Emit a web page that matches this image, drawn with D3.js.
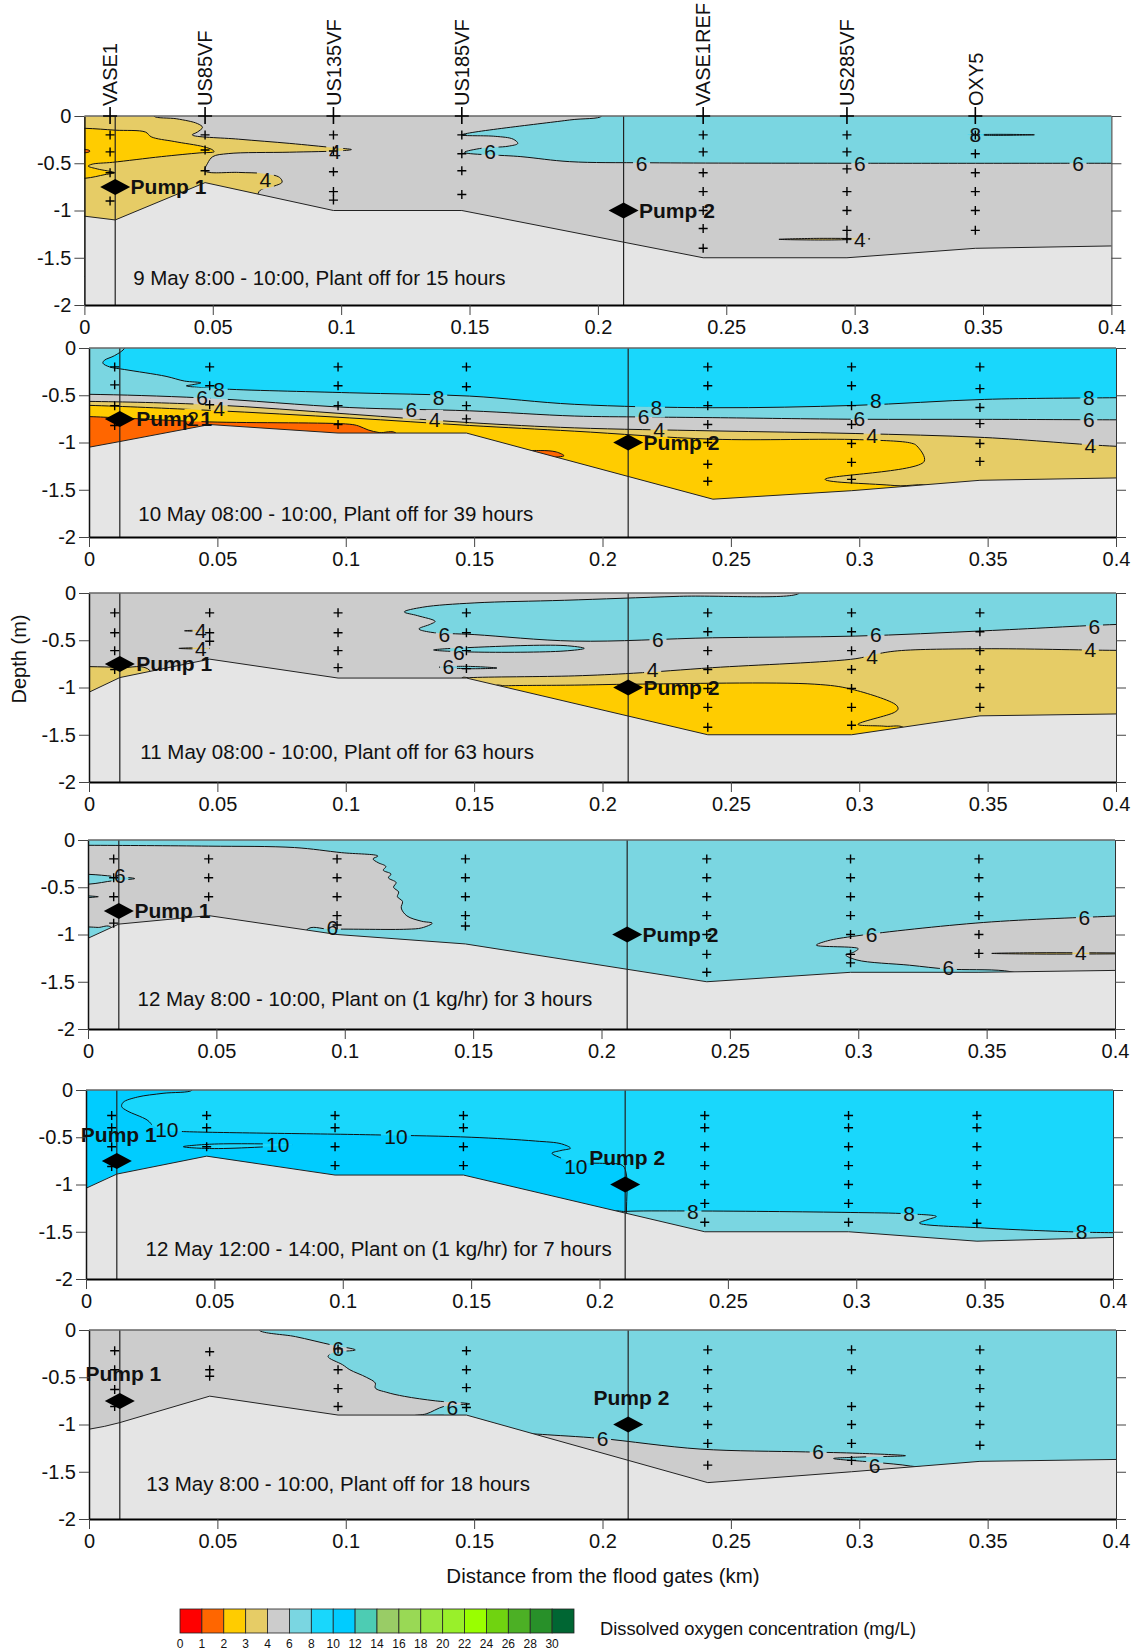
<!DOCTYPE html>
<html lang="en">
<head>
<meta charset="utf-8">
<title>Dissolved oxygen sections</title>
<script src="https://d3js.org/d3.v7.min.js"></script>
<style>
  body { margin: 0; background: #fff; }
  svg text { font-family: "Liberation Sans", Arial, sans-serif; fill: #111; }
</style>
</head>
<body>
<div id="chart"></div>
<script>
var W = 1136, H = 1652;

// ---- data ----
var stations = ["VASE1", "US85VF", "US135VF", "US185VF", "VASE1REF", "US285VF", "OXY5"];
var stationX = [0.010, 0.047, 0.097, 0.147, 0.241, 0.297, 0.347];
var pumpX = [0.012, 0.210];
var pumpD = [-0.75, -1.0];
var xTicks = [0, 0.05, 0.1, 0.15, 0.2, 0.25, 0.3, 0.35, 0.4];
var yTicks = [0, -0.5, -1, -1.5, -2];
var doBreaks = [0, 1, 2, 3, 4, 6, 8, 10, 12, 14, 16, 18, 20, 22, 24, 26, 28, 30];
var doColors = ["#FF0000", "#FF6600", "#FFCC00", "#E6CC66", "#CCCCCC", "#7AD6E1", "#19D7FC", "#00CCFF",
  "#4DCCB3", "#99CC66", "#99D955", "#99E640", "#99F02A", "#99FF00", "#70D310", "#4CB025", "#289029", "#006633"];
var captions = [
  "9 May 8:00 - 10:00, Plant off for 15 hours",
  "10 May 08:00 - 10:00, Plant off for 39 hours",
  "11 May 08:00 - 10:00, Plant off for 63 hours",
  "12 May 8:00 - 10:00, Plant on (1 kg/hr) for 3 hours",
  "12 May 12:00 - 14:00, Plant on (1 kg/hr) for 7 hours",
  "13 May 8:00 - 10:00, Plant off for 18 hours"
];

// bed profiles [distance km, depth m]
var bed1 = [[0,-1.06],[0.012,-1.1],[0.047,-0.705],[0.097,-1.0],[0.147,-1.0],[0.241,-1.5],[0.297,-1.5],[0.347,-1.4],[0.4,-1.375]];
var bed2 = [[0,-1.05],[0.012,-0.99],[0.047,-0.81],[0.097,-0.9],[0.147,-0.9],[0.243,-1.6],[0.297,-1.51],[0.347,-1.4],[0.4,-1.375]];
var bed3 = [[0,-1.05],[0.012,-0.895],[0.047,-0.7],[0.097,-0.9],[0.147,-0.9],[0.241,-1.5],[0.297,-1.5],[0.347,-1.3],[0.4,-1.28]];
var bed4 = [[0,-1.04],[0.012,-0.89],[0.047,-0.8],[0.097,-1.0],[0.147,-1.1],[0.241,-1.5],[0.297,-1.4],[0.347,-1.4],[0.4,-1.38]];
var bed5 = [[0,-1.04],[0.012,-0.89],[0.047,-0.7],[0.097,-0.9],[0.147,-0.9],[0.241,-1.5],[0.297,-1.5],[0.347,-1.6],[0.4,-1.56]];
var bed6 = [[0,-1.05],[0.006,-1.02],[0.012,-0.98],[0.047,-0.7],[0.097,-0.9],[0.147,-0.9],[0.241,-1.615],[0.297,-1.5],[0.347,-1.39],[0.4,-1.37]];

// background DO value of each section
var bases = [5, 9, 5, 7, 9, 5];

// DO regions (v = mg/L inside the region)
var regions1 = [
  {v: 3.5, pts: [[-0.02,0.05],[0.027,0.05],[0.027,0],[0.036,-0.03],[0.044,-0.08],[0.046,-0.12],[0.044,-0.17],[0.042,-0.2],[0.06,-0.245],[0.08,-0.29],[0.097,-0.335],[0.104,-0.355],[0.1,-0.368],[0.08,-0.383],[0.056,-0.398],[0.05,-0.43],[0.048,-0.5],[0.047,-0.58],[0.06,-0.597],[0.07,-0.61],[0.076,-0.65],[0.077,-0.7],[0.073,-0.75],[0.068,-0.8],[0.068,-1.5],[-0.02,-1.5]]},
  {v: 2.5, pts: [[-0.02,-0.13],[0,-0.13],[0.012,-0.15],[0.0238,-0.17],[0.026,-0.22],[0.035,-0.27],[0.0464,-0.325],[0.05,-0.36],[0.0505,-0.378],[0.045,-0.39],[0.03,-0.43],[0.011,-0.49],[0.003,-0.51],[0.0015,-0.53],[0.005,-0.56],[0.0117,-0.6],[0.008,-0.62],[0,-0.66],[-0.02,-0.66]]},
  {v: 1.5, pts: [[-0.01,-0.355],[0.002,-0.365],[0.002,-0.378],[-0.01,-0.385]]},
  {v: 7, pts: [[0.2015,0.05],[0.2015,0],[0.189,-0.042],[0.147,-0.2],[0.16,-0.215],[0.167,-0.245],[0.1688,-0.29],[0.165,-0.32],[0.155,-0.34],[0.148,-0.385],[0.17,-0.43],[0.189,-0.483],[0.22,-0.495],[0.3,-0.5],[0.4,-0.5],[0.42,-0.5],[0.42,0.05]]},
  {v: 9, pts: [[0.344,-0.2],[0.355,-0.194],[0.37,-0.199],[0.355,-0.205]]},
  {v: 3.5, pts: [[0.2705,-1.305],[0.285,-1.295],[0.306,-1.3],[0.29,-1.312]]}
];
var regions2 = [
  {v: 7, pts: [[0.0139,0.05],[0.0139,0],[0.01,-0.08],[0.006,-0.13],[0.0054,-0.16],[0.008,-0.2],[0.0139,-0.228],[0.03,-0.3],[0.0372,-0.35],[0.0436,-0.368],[0.04,-0.39],[0.0379,-0.4],[0.0499,-0.43],[0.1016,-0.474],[0.1483,-0.509],[0.189,-0.596],[0.243,-0.632],[0.2987,-0.607],[0.3487,-0.544],[0.4,-0.526],[0.42,-0.52],[0.42,-2.5],[-0.02,-2.5],[-0.02,0.05]]},
  {v: 5, pts: [[-0.02,-0.49],[0,-0.49],[0.044,-0.528],[0.1016,-0.63],[0.1483,-0.665],[0.189,-0.72],[0.216,-0.73],[0.243,-0.737],[0.2987,-0.754],[0.3487,-0.755],[0.4,-0.76],[0.42,-0.76],[0.42,-2.5],[-0.02,-2.5]]},
  {v: 3.5, pts: [[-0.02,-0.565],[0,-0.565],[0.047,-0.6],[0.1016,-0.7],[0.1483,-0.79],[0.189,-0.845],[0.243,-0.877],[0.2987,-0.905],[0.3487,-0.947],[0.4,-1.04],[0.42,-1.05],[0.42,-2.5],[-0.02,-2.5]]},
  {v: 2.5, pts: [[-0.02,-0.6],[0,-0.607],[0.047,-0.66],[0.1016,-0.74],[0.1483,-0.82],[0.189,-0.88],[0.243,-0.965],[0.3,-0.97],[0.3203,-1.007],[0.3224,-1.035],[0.3253,-1.2],[0.2867,-1.39],[0.3139,-1.456],[0.33,-1.5],[0.33,-2.5],[-0.02,-2.5]]},
  {v: 1.5, pts: [[-0.02,-0.72],[0,-0.726],[0.012,-0.74],[0.047,-0.782],[0.1016,-0.807],[0.105,-0.825],[0.1087,-0.867],[0.113,-0.895],[0.12,-0.91],[0.12,-2.5],[-0.02,-2.5]]},
  {v: 1.5, pts: [[0.17,-1.1],[0.176,-1.085],[0.182,-1.1],[0.185,-1.14],[0.17,-1.14]]}
];
var regions3 = [
  {v: 7, pts: [[0.2767,0.05],[0.2767,0],[0.23,-0.035],[0.1852,-0.077],[0.15,-0.105],[0.13,-0.15],[0.1228,-0.2],[0.128,-0.24],[0.1348,-0.3],[0.133,-0.33],[0.1285,-0.38],[0.133,-0.415],[0.15,-0.44],[0.189,-0.509],[0.2429,-0.474],[0.2987,-0.456],[0.3487,-0.4],[0.4,-0.333],[0.42,-0.32],[0.42,0.05]]},
  {v: 7, pts: [[0.1342,-0.603],[0.15,-0.575],[0.185,-0.556],[0.1929,-0.586],[0.185,-0.614],[0.15,-0.625]]},
  {v: 7, pts: [[0.1364,-0.785],[0.147,-0.776],[0.1589,-0.794],[0.147,-0.801]]},
  {v: 3.5, pts: [[0.0372,-0.4],[0.042,-0.394],[0.0465,-0.4],[0.042,-0.405]]},
  {v: 3.5, pts: [[0.035,-0.586],[0.042,-0.58],[0.047,-0.586],[0.042,-0.592]]},
  {v: 3.5, pts: [[-0.02,-0.779],[0,-0.779],[0.012,-0.79],[0.0239,-0.825],[0.0245,-2.5],[-0.02,-2.5]]},
  {v: 3.5, pts: [[0.145,-0.905],[0.1483,-0.896],[0.189,-0.877],[0.212,-0.849],[0.2429,-0.79],[0.2987,-0.695],[0.306,-0.65],[0.315,-0.612],[0.3487,-0.59],[0.4,-0.607],[0.42,-0.607],[0.42,-2.5],[0.145,-2.5]]},
  {v: 2.5, pts: [[0.158,-0.99],[0.1624,-0.982],[0.189,-0.975],[0.212,-0.965],[0.2827,-0.965],[0.297,-1.018],[0.3144,-1.186],[0.3151,-1.228],[0.3137,-1.263],[0.2995,-1.39],[0.31,-1.41],[0.318,-1.44],[0.318,-2.5],[0.158,-2.5]]}
];
var regions4 = [
  {v: 5, pts: [[-0.02,-0.056],[0,-0.056],[0.047,-0.065],[0.0804,-0.08],[0.0988,-0.134],[0.1129,-0.17],[0.111,-0.2],[0.113,-0.24],[0.116,-0.28],[0.115,-0.32],[0.118,-0.36],[0.117,-0.4],[0.12,-0.45],[0.119,-0.5],[0.121,-0.55],[0.1205,-0.6],[0.1225,-0.65],[0.122,-0.72],[0.1242,-0.803],[0.13,-0.86],[0.1341,-0.88],[0.13,-0.93],[0.1242,-0.944],[0.0945,-0.944],[0.085,-0.955],[0.085,-2.5],[0.009,-2.5],[0.009,-0.925],[0.004,-0.925],[0,-0.92],[-0.02,-0.92]]},
  {v: 7, pts: [[-0.02,-0.363],[0,-0.363],[0.01,-0.385],[0.0182,-0.408],[0.01,-0.43],[0,-0.468],[-0.02,-0.468]]},
  {v: 7, pts: [[-0.02,-0.59],[0.004,-0.6],[-0.02,-0.615]]},
  {v: 5, pts: [[0.42,-0.78],[0.4015,-0.803],[0.3487,-0.873],[0.2995,-1.014],[0.288,-1.067],[0.2837,-1.113],[0.3,-1.15],[0.298,-1.19],[0.2951,-1.215],[0.2995,-1.27],[0.32,-1.325],[0.335,-1.366],[0.357,-1.384],[0.37,-1.45],[0.42,-1.45]]},
  {v: 3.5, pts: [[0.352,-1.2],[0.37,-1.193],[0.4,-1.195],[0.42,-1.2],[0.4,-1.205],[0.37,-1.207]]}
];
var regions5 = [
  {v: 11, pts: [[0.0414,0.05],[0.0414,0],[0.03,-0.035],[0.02,-0.075],[0.0145,-0.13],[0.0139,-0.176],[0.016,-0.22],[0.0238,-0.317],[0.0266,-0.387],[0.032,-0.43],[0.0379,-0.44],[0.1129,-0.475],[0.15,-0.5],[0.175,-0.54],[0.1852,-0.57],[0.1887,-0.616],[0.185,-0.64],[0.1815,-0.669],[0.185,-0.72],[0.19,-0.77],[0.2,-0.775],[0.209,-0.8],[0.2105,-0.9],[0.2105,-1.3],[0.2105,-2.5],[-0.02,-2.5],[-0.02,0.05]]},
  {v: 9, pts: [[0.0379,-0.6],[0.05,-0.572],[0.0803,-0.58],[0.05,-0.62]]},
  {v: 7, pts: [[0.205,-1.3],[0.2102,-1.285],[0.2336,-1.28],[0.2976,-1.296],[0.32,-1.31],[0.3312,-1.338],[0.328,-1.37],[0.3246,-1.408],[0.3501,-1.461],[0.3865,-1.503],[0.4,-1.51],[0.42,-1.514],[0.42,-2.5],[0.205,-2.5]]}
];
var regions6 = [
  {v: 7, pts: [[0.0662,0.05],[0.0662,0],[0.0804,-0.07],[0.0945,-0.158],[0.1037,-0.211],[0.095,-0.24],[0.0931,-0.281],[0.0988,-0.368],[0.1016,-0.421],[0.108,-0.5],[0.1115,-0.561],[0.1115,-0.614],[0.116,-0.66],[0.1228,-0.702],[0.135,-0.75],[0.1483,-0.782],[0.1384,-0.807],[0.1313,-0.888],[0.127,-0.905],[0.147,-0.915],[0.17,-1.09],[0.1766,-1.105],[0.199,-1.147],[0.238,-1.26],[0.279,-1.29],[0.3,-1.305],[0.318,-1.33],[0.3,-1.345],[0.29,-1.36],[0.306,-1.4],[0.32,-1.44],[0.33,-1.5],[0.33,-2.5],[0.42,-2.5],[0.42,0.05]]}
];

// sampling depths at each station
var samples1 = [[-0.2,-0.38,-0.6,-0.9],[-0.2,-0.36,-0.58],[-0.2,-0.37,-0.59,-0.8,-0.89],[-0.2,-0.4,-0.58,-0.83],
  [-0.2,-0.38,-0.6,-0.8,-1.0,-1.19,-1.4],[-0.2,-0.38,-0.56,-0.8,-1.0,-1.21,-1.3],[-0.2,-0.4,-0.6,-0.8,-1.0,-1.21]];
var samples2 = [[-0.2,-0.39,-0.61,-0.82],[-0.2,-0.4,-0.6],[-0.2,-0.4,-0.61,-0.81],[-0.2,-0.41,-0.61,-0.75],
  [-0.2,-0.4,-0.61,-0.81,-1.0,-1.23,-1.41],[-0.2,-0.4,-0.61,-0.81,-1.01,-1.21,-1.39],[-0.2,-0.43,-0.63,-0.8,-1.01,-1.2]];
var samples3 = [[-0.21,-0.42,-0.61,-0.81],[-0.21,-0.42,-0.51],[-0.21,-0.42,-0.61,-0.79],[-0.21,-0.42,-0.61,-0.8],
  [-0.21,-0.41,-0.61,-0.81,-1.01,-1.21,-1.42],[-0.21,-0.41,-0.61,-0.81,-1.01,-1.21,-1.4],[-0.21,-0.41,-0.61,-0.81,-1.0,-1.21]];
var samples4 = [[-0.2,-0.4,-0.6,-0.88],[-0.2,-0.4,-0.6],[-0.2,-0.4,-0.6,-0.8,-0.9],[-0.2,-0.4,-0.6,-0.8,-0.91],
  [-0.2,-0.4,-0.6,-0.8,-1.0,-1.21,-1.4],[-0.2,-0.4,-0.6,-0.8,-1.0,-1.21,-1.3],[-0.2,-0.4,-0.6,-0.8,-1.0,-1.2]];
var samples5 = [[-0.27,-0.4,-0.6,-0.81],[-0.27,-0.4,-0.6],[-0.27,-0.4,-0.6,-0.8],[-0.27,-0.4,-0.6,-0.8],
  [-0.27,-0.4,-0.6,-0.8,-1.0,-1.2,-1.4],[-0.27,-0.4,-0.6,-0.8,-1.0,-1.2,-1.4],[-0.27,-0.4,-0.6,-0.8,-1.0,-1.2,-1.41]];
var samples6 = [[-0.22,-0.42,-0.63,-0.81],[-0.23,-0.42,-0.49],[-0.2,-0.42,-0.62,-0.81],[-0.22,-0.42,-0.61,-0.82],
  [-0.21,-0.42,-0.62,-0.81,-1.0,-1.2,-1.43],[-0.21,-0.42,-0.81,-1.0,-1.2,-1.38],[-0.21,-0.42,-0.62,-0.81,-1.0,-1.22]];

// contour labels [text, km, depth]
var labels1 = [["4",0.0975,-0.37],["4",0.0705,-0.67],["6",0.158,-0.37],["6",0.217,-0.5],["6",0.302,-0.5],["6",0.387,-0.5],["8",0.347,-0.2],["4",0.302,-1.31]];
var labels2 = [["6",0.044,-0.525],["8",0.0507,-0.44],["4",0.0507,-0.635],["2",0.0405,-0.75],["8",0.1362,-0.525],["6",0.1255,-0.65],["4",0.1346,-0.76],
  ["8",0.221,-0.63],["6",0.216,-0.72],["4",0.222,-0.86],["8",0.3065,-0.56],["6",0.3,-0.75],["4",0.305,-0.92],["8",0.3894,-0.52],["6",0.3894,-0.76],["4",0.39,-1.03]];
var labels3 = [["4",0.0436,-0.4],["4",0.0436,-0.59],["6",0.1384,-0.44],["6",0.144,-0.63],["6",0.14,-0.78],
  ["6",0.2216,-0.49],["4",0.2195,-0.81],["6",0.3065,-0.44],["4",0.305,-0.67],["6",0.3916,-0.35],["4",0.39,-0.6]];
var labels4 = [["6",0.0124,-0.38],["6",0.0952,-0.93],["6",0.3052,-1.0],["6",0.3881,-0.82],["6",0.3351,-1.35],["4",0.3867,-1.19]];
var labels5 = [["10",0.0315,-0.42],["10",0.0747,-0.58],["10",0.1207,-0.49],["10",0.1908,-0.81],["8",0.2364,-1.285],["8",0.3206,-1.31],["8",0.3878,-1.5]];
var labels6 = [["6",0.097,-0.19],["6",0.1415,-0.82],["6",0.2,-1.147],["6",0.284,-1.29],["6",0.306,-1.43]];

// where the pump names are written [km, depth] (Pump 1, Pump 2)
var pumpText = [
  [[0.018,-0.75],[0.216,-1.0]],
  [[0.0184,-0.75],[0.216,-1.0]],
  [[0.0184,-0.75],[0.216,-1.0]],
  [[0.0181,-0.75],[0.216,-1.0]],
  [[-0.002,-0.475],[0.196,-0.71]],
  [[-0.0014,-0.46],[0.1965,-0.71]]
];
var captionAt = [[0.019,-1.71],[0.0192,-1.75],[0.02,-1.68],[0.0193,-1.68],[0.0232,-1.68],[0.0223,-1.63]];

var beds = [bed1, bed2, bed3, bed4, bed5, bed6];
var regions = [regions1, regions2, regions3, regions4, regions5, regions6];
var samples = [samples1, samples2, samples3, samples4, samples5, samples6];
var labels = [labels1, labels2, labels3, labels4, labels5, labels6];

// ---- layout ----
var panelLeft = [84.4, 89, 89, 88, 86, 89];
var panelTop = [116, 348, 593, 840, 1090, 1330];
var panelW = 1027, panelH = 189;

var color = d3.scaleThreshold().domain(doBreaks.slice(1)).range(doColors);

var svg = d3.select("#chart").append("svg")
    .attr("width", W).attr("height", H);
var defs = svg.append("defs");

beds.forEach(function(bed, i) {
  var x = d3.scaleLinear().domain([0, 0.4]).range([panelLeft[i], panelLeft[i] + panelW]);
  var y = d3.scaleLinear().domain([0, -2]).range([panelTop[i], panelTop[i] + panelH]);
  var smooth = d3.line().x(function(d) { return x(d[0]); }).y(function(d) { return y(d[1]); })
      .curve(d3.curveCatmullRomClosed.alpha(0.5));
  var straight = d3.line().x(function(d) { return x(d[0]); }).y(function(d) { return y(d[1]); });

  defs.append("clipPath").attr("id", "clip" + i)
    .append("rect").attr("x", x(0)).attr("y", y(0)).attr("width", panelW).attr("height", panelH);

  // holes in the contour lines behind the labels
  var mask = defs.append("mask").attr("id", "mask" + i).attr("maskUnits", "userSpaceOnUse")
      .attr("x", 0).attr("y", 0).attr("width", W).attr("height", H);
  mask.append("rect").attr("width", W).attr("height", H).attr("fill", "white");
  mask.selectAll(null).data(labels[i]).join("rect")
      .attr("x", function(d) { return x(d[1]) - d[0].length * 6.5 - 2; })
      .attr("y", function(d) { return y(d[2]) - 10; })
      .attr("width", function(d) { return d[0].length * 13 + 4; })
      .attr("height", 20)
      .attr("fill", "black");

  var g = svg.append("g");
  var area = g.append("g").attr("clip-path", "url(#clip" + i + ")");

  area.append("rect").attr("x", x(0)).attr("y", y(0)).attr("width", panelW).attr("height", panelH)
      .attr("fill", color(bases[i]));

  area.selectAll("path.fill").data(regions[i]).join("path")
      .attr("class", "fill")
      .attr("d", function(d) { return smooth(d.pts); })
      .attr("fill", function(d) { return color(d.v); });

  area.append("g").attr("mask", "url(#mask" + i + ")")
    .selectAll("path").data(regions[i]).join("path")
      .attr("d", function(d) { return smooth(d.pts); })
      .attr("fill", "none")
      .attr("stroke", "#111")
      .attr("stroke-width", 1);

  // river bed
  var bedPoly = [[-0.01, bed[0][1]]].concat(bed, [[0.41, bed[bed.length - 1][1]], [0.41, -2.2], [-0.01, -2.2]]);
  area.append("path").attr("d", straight(bedPoly) + "Z")
      .attr("fill", "#E5E5E5").attr("stroke", "#222").attr("stroke-width", 1);

  // pump lines
  g.selectAll("line.pump").data(pumpX).join("line")
      .attr("x1", function(d) { return x(d); }).attr("x2", function(d) { return x(d); })
      .attr("y1", y(0)).attr("y2", y(-2))
      .attr("stroke", "#222").attr("stroke-width", 1.2);

  // sampling points
  stationX.forEach(function(sx, j) {
    g.selectAll(null).data(samples[i][j]).join("path")
        .attr("transform", function(d) { return "translate(" + x(sx) + "," + y(d) + ")"; })
        .attr("d", "M-4.5,0H4.5M0,-4.5V4.5")
        .attr("stroke", "#000").attr("stroke-width", 1.4);
  });

  // contour labels
  g.selectAll("text.clab").data(labels[i]).join("text")
      .attr("class", "clab")
      .attr("x", function(d) { return x(d[1]); })
      .attr("y", function(d) { return y(d[2]); })
      .attr("dy", "0.36em")
      .attr("text-anchor", "middle")
      .style("font-size", "21px")
      .text(function(d) { return d[0]; });

  // pumps
  g.selectAll("path.diamond").data(pumpX).join("path")
      .attr("transform", function(d, k) { return "translate(" + x(d) + "," + y(pumpD[k]) + ")"; })
      .attr("d", "M-15,0L0,-8L15,0L0,8Z")
      .attr("fill", "#000");
  g.selectAll("text.pump").data(pumpText[i]).join("text")
      .attr("x", function(d) { return x(d[0]); })
      .attr("y", function(d) { return y(d[1]); })
      .attr("dy", "0.36em")
      .style("font-size", "21px").style("font-weight", "bold")
      .text(function(d, k) { return "Pump " + (k + 1); });

  g.append("text")
      .attr("x", x(captionAt[i][0])).attr("y", y(captionAt[i][1]))
      .attr("dy", "0.36em")
      .style("font-size", "20.5px")
      .text(captions[i]);

  // axes
  var left = g.append("g").attr("transform", "translate(" + x(0) + ",0)")
      .call(d3.axisLeft(y).tickValues(yTicks).tickSize(10).tickSizeOuter(0).tickPadding(3)
        .tickFormat(function(d) { return String(d); }));
  var right = g.append("g").attr("transform", "translate(" + x(0.4) + ",0)")
      .call(d3.axisRight(y).tickValues(yTicks).tickSize(10).tickSizeOuter(0).tickFormat(""));
  var bottom = g.append("g").attr("transform", "translate(0," + y(-2) + ")")
      .call(d3.axisBottom(x).tickValues(xTicks).tickSize(10).tickSizeOuter(0).tickPadding(5)
        .tickFormat(function(d) { return String(d); }));
  [left, right, bottom].forEach(function(a) {
    a.selectAll("text").style("font-size", "20px").style("font-family", "Liberation Sans, Arial, sans-serif").attr("fill", "#111");
    a.selectAll("line").attr("stroke", "#444");
  });
  left.select(".domain").attr("stroke", "#111").attr("stroke-width", 1.5);
  right.select(".domain").attr("stroke", "#333");
  bottom.select(".domain").attr("stroke", "#000").attr("stroke-width", 2);
  g.append("line").attr("x1", x(0)).attr("x2", x(0.4)).attr("y1", y(0)).attr("y2", y(0))
      .attr("stroke", "#666").attr("stroke-width", 1.5);

  // station names on top of the first section
  if (i === 0) {
    g.selectAll("path.top").data(stationX).join("path")
        .attr("transform", function(d) { return "translate(" + x(d) + "," + y(0) + ")"; })
        .attr("d", "M-7,0H7M0,-9V8")
        .attr("stroke", "#000").attr("stroke-width", 1.6);
    g.selectAll("text.st").data(stations).join("text")
        .attr("transform", function(d, k) { return "translate(" + x(stationX[k]) + "," + (y(0) - 10) + ") rotate(-90)"; })
        .attr("dy", "0.36em")
        .style("font-size", "20px")
        .text(function(d) { return d; });
  }
});

svg.append("text")
    .attr("transform", "translate(19,659) rotate(-90)")
    .attr("dy", "0.36em")
    .attr("text-anchor", "middle")
    .style("font-size", "20px")
    .text("Depth (m)");

svg.append("text")
    .attr("x", 603).attr("y", 1576)
    .attr("dy", "0.36em")
    .attr("text-anchor", "middle")
    .style("font-size", "20.5px")
    .text("Distance from the flood gates (km)");

// legend
var lx = d3.scaleLinear().domain([0, doBreaks.length]).range([180, 574]);
var legend = svg.append("g");
legend.selectAll("rect").data(doBreaks).join("rect")
    .attr("x", function(d, k) { return lx(k); })
    .attr("y", 1609)
    .attr("width", lx(1) - lx(0))
    .attr("height", 24)
    .attr("fill", function(d) { return color(d + 0.5); })
    .attr("stroke", "#222").attr("stroke-width", 0.8);
legend.selectAll("text").data(doBreaks).join("text")
    .attr("x", function(d, k) { return lx(k); })
    .attr("y", 1648)
    .attr("text-anchor", "middle")
    .style("font-size", "12px")
    .text(function(d) { return d; });
svg.append("text")
    .attr("x", 600).attr("y", 1628)
    .attr("dy", "0.36em")
    .style("font-size", "18.3px")
    .text("Dissolved oxygen concentration (mg/L)");
</script>
</body>
</html>
